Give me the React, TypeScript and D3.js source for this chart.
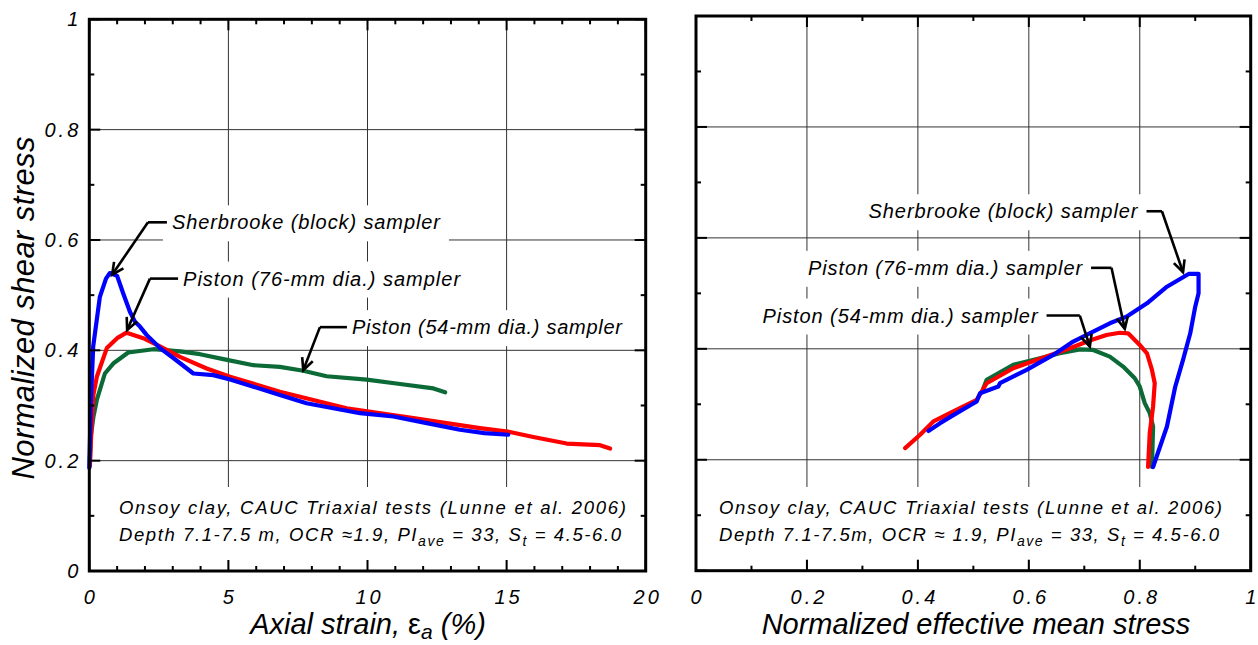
import React from "react";
import * as d3 from "d3";

const W = 1258;
const H = 645;
const FONT = "'Liberation Sans', Arial, Helvetica, sans-serif";

// Stress–strain curves: [axial strain (%), normalized shear stress]
const blockStrainCurve: [number, number][] = [
  [0.0, 0.187], [0.03, 0.25], [0.06, 0.31], [0.14, 0.407], [0.38, 0.497], [0.6, 0.53],
  [0.74, 0.54], [1.0, 0.535], [1.22, 0.503], [1.46, 0.47], [1.64, 0.452], [1.82, 0.443],
  [2.06, 0.428], [2.54, 0.404], [3.02, 0.386], [3.74, 0.358], [4.46, 0.355], [5.06, 0.347],
  [5.9, 0.334], [6.85, 0.319], [7.81, 0.304], [8.77, 0.295], [9.73, 0.286], [10.93, 0.28],
  [12.13, 0.268], [13.32, 0.256], [14.2, 0.25], [15.06, 0.247],
];
const piston76StrainCurve: [number, number][] = [
  [0.02, 0.19], [0.08, 0.26], [0.15, 0.32], [0.27, 0.352], [0.63, 0.404], [1.0, 0.422],
  [1.34, 0.432], [1.94, 0.422], [2.54, 0.407], [3.26, 0.388], [4.22, 0.367], [5.06, 0.352],
  [6.85, 0.325], [9.25, 0.295], [11.65, 0.277], [14.04, 0.259], [15.12, 0.252], [15.96, 0.243],
  [17.16, 0.231], [18.36, 0.228], [18.72, 0.222],
];
const piston54StrainCurve: [number, number][] = [
  [0.02, 0.2], [0.05, 0.243], [0.15, 0.28], [0.27, 0.31], [0.56, 0.358], [0.86, 0.376],
  [1.4, 0.396], [2.3, 0.402], [3.26, 0.398], [3.98, 0.393], [4.82, 0.384], [5.9, 0.373],
  [6.85, 0.37], [7.69, 0.363], [8.53, 0.353], [9.97, 0.347], [11.17, 0.339], [12.37, 0.331],
  [12.79, 0.324],
];

// Effective stress paths: [normalized effective mean stress, normalized shear stress]
const blockStressPath: [number, number][] = [
  [0.824, 0.187], [0.849, 0.26], [0.864, 0.332], [0.878, 0.38], [0.891, 0.428], [0.9, 0.476],
  [0.906, 0.5], [0.906, 0.535], [0.888, 0.535], [0.849, 0.512], [0.813, 0.482], [0.776, 0.458],
  [0.746, 0.446], [0.716, 0.431], [0.68, 0.413], [0.644, 0.389], [0.596, 0.362], [0.548, 0.338],
  [0.545, 0.332], [0.512, 0.32], [0.506, 0.305], [0.47, 0.284], [0.44, 0.266], [0.419, 0.252],
];
const piston76StressPath: [number, number][] = [
  [0.815, 0.187], [0.818, 0.248], [0.824, 0.296], [0.827, 0.338], [0.822, 0.362], [0.813, 0.392],
  [0.8, 0.407], [0.779, 0.428], [0.764, 0.429], [0.74, 0.425], [0.71, 0.415], [0.674, 0.401],
  [0.632, 0.386], [0.572, 0.365], [0.524, 0.338], [0.506, 0.308], [0.464, 0.287], [0.428, 0.269],
  [0.404, 0.245], [0.377, 0.221],
];
const piston54StressPath: [number, number][] = [
  [0.822, 0.187], [0.824, 0.26], [0.818, 0.284], [0.809, 0.302], [0.8, 0.332], [0.791, 0.347],
  [0.77, 0.368], [0.746, 0.386], [0.716, 0.398], [0.692, 0.399], [0.656, 0.392], [0.62, 0.383],
  [0.572, 0.371], [0.524, 0.344], [0.518, 0.329],
];

const strainTickLabels = ["0", "5", "10", "15", "20"];
const meanStressTickLabels = ["0", "0.2", "0.4", "0.6", "0.8", "1"];
const shearTickLabels = ["0", "0.2", "0.4", "0.6", "0.8", "1"];
const samplerNames = [
  "Sherbrooke (block) sampler",
  "Piston (76-mm dia.) sampler",
  "Piston (54-mm dia.) sampler",
];
const seriesColors = ["#0000ff", "#ff0000", "#0b6a36"];

type Pt = [number, number];
type Note = {
  label: string;
  tx: number; // text anchor (data units)
  ty: number;
  width: number; // rendered text length in px
  elbow: number; // x of the leader's bend (data units)
  tip: Pt; // arrow tip (data units)
};
type Box = { left: number; right: number; top: number; bottom: number };

const leftNotes: Note[] = [
  { label: samplerNames[0], tx: 2.97, ty: 0.632, width: 268, elbow: 2.11, tip: [0.82, 0.537] },
  { label: samplerNames[1], tx: 3.37, ty: 0.53, width: 277, elbow: 2.18, tip: [1.36, 0.437] },
  { label: samplerNames[2], tx: 9.44, ty: 0.442, width: 270, elbow: 8.29, tip: [7.69, 0.364] },
];
const rightNotes: Note[] = [
  { label: samplerNames[0], tx: 0.311, ty: 0.648, width: 269, elbow: 0.84, tip: [0.878, 0.538] },
  { label: samplerNames[1], tx: 0.202, ty: 0.546, width: 274, elbow: 0.749, tip: [0.773, 0.436] },
  { label: samplerNames[2], tx: 0.12, ty: 0.46, width: 275, elbow: 0.692, tip: [0.71, 0.404] },
];

function Arrow({ from, to }: { from: Pt; to: Pt }) {
  const ang = Math.atan2(to[1] - from[1], to[0] - from[0]);
  const len = 13;
  const spread = 0.45;
  const a1: Pt = [to[0] - len * Math.cos(ang - spread), to[1] - len * Math.sin(ang - spread)];
  const a2: Pt = [to[0] - len * Math.cos(ang + spread), to[1] - len * Math.sin(ang + spread)];
  return (
    <polyline
      points={`${a1[0]},${a1[1]} ${to[0]},${to[1]} ${a2[0]},${a2[1]}`}
      fill="none"
      stroke="#000"
      strokeWidth={2.6}
      strokeLinejoin="miter"
    />
  );
}

function NoteLine2({ x, y, width, compact }: { x: number; y: number; width: number; compact: boolean }) {
  const sub = 14;
  return (
    <text
      x={x}
      y={y}
      fontSize={18.5}
      fontStyle="italic"
      fontFamily={FONT}
      fill="#000"
      textLength={width}
      lengthAdjust="spacing"
    >
      {compact ? "Depth 7.1-7.5m, OCR \u2248 1.9, PI" : "Depth 7.1-7.5 m, OCR \u22481.9, PI"}
      <tspan fontSize={sub} dy={5}>ave</tspan>
      <tspan dy={-5}>{" = 33, S"}</tspan>
      <tspan fontSize={sub} dy={5}>t</tspan>
      <tspan dy={-5}>{" = 4.5-6.0"}</tspan>
    </text>
  );
}

function Panel({
  box,
  xDomain,
  xMajorCount,
  xMinorCount,
  xLabels,
  yLabels,
  curves,
  notes,
  side,
  noteX,
  noteWidth,
  note2Width,
  compactNote,
}: {
  box: Box;
  xDomain: [number, number];
  xMajorCount: number;
  xMinorCount: number;
  xLabels: string[];
  yLabels: string[] | null;
  curves: Pt[][];
  notes: Note[];
  side: "left" | "right";
  noteX: number;
  noteWidth: number;
  note2Width: number;
  compactNote: boolean;
}) {
  const x = d3.scaleLinear().domain(xDomain).range([box.left, box.right]);
  const y = d3.scaleLinear().domain([0, 1]).range([box.bottom, box.top]);
  const line = d3
    .line<Pt>()
    .x((d) => x(d[0]))
    .y((d) => y(d[1]));

  const xMajor = x.ticks(xMajorCount);
  const xMinor = x.ticks(xMinorCount);
  const yMajor = y.ticks(5);
  const yMinor = y.ticks(10);
  const majorLen = 11;
  const minorLen = 5;

  const padX = 9;
  const textBoxes = notes.map((n) => ({
    x: x(n.tx) - padX,
    y: y(n.ty) - 17,
    w: n.width + 2 * padX,
    h: 36,
  }));

  return (
    <g>
      {/* grid */}
      {xMajor
        .filter((v) => v > xDomain[0] && v < xDomain[1])
        .map((v) => (
          <line key={"gx" + v} x1={x(v)} x2={x(v)} y1={box.top} y2={box.bottom} stroke="#333" strokeWidth={1} />
        ))}
      {yMajor
        .filter((v) => v > 0 && v < 1)
        .map((v) => (
          <line key={"gy" + v} x1={box.left} x2={box.right} y1={y(v)} y2={y(v)} stroke="#333" strokeWidth={1} />
        ))}

      {/* label backgrounds */}
      {textBoxes.map((b, i) => (
        <rect key={"tb" + i} x={b.x} y={b.y} width={b.w} height={b.h} fill="#fff" />
      ))}
      <rect x={noteX - 9} y={487} width={noteWidth + 18} height={73} fill="#fff" />

      {/* curves: 54 mm, 76 mm, then block on top */}
      {[2, 1, 0].map((i) => (
        <path
          key={"c" + i}
          d={line(curves[i]) || ""}
          fill="none"
          stroke={seriesColors[i]}
          strokeWidth={4.2}
          strokeLinejoin="round"
          strokeLinecap="round"
        />
      ))}

      {/* annotations */}
      {notes.map((n, i) => {
        const ty = y(n.ty);
        const ex = x(n.elbow);
        const tip: Pt = [x(n.tip[0]), y(n.tip[1])];
        const tx0 = x(n.tx);
        const hx = side === "left" ? tx0 - 5 : tx0 + n.width + 9;
        return (
          <g key={"n" + i}>
            <line x1={ex} x2={hx} y1={ty} y2={ty} stroke="#000" strokeWidth={2.6} />
            <line x1={ex} y1={ty} x2={tip[0]} y2={tip[1]} stroke="#000" strokeWidth={2.6} />
            <Arrow from={[ex, ty]} to={tip} />
            <text
              x={tx0}
              y={ty + 7}
              fontSize={20}
              fontStyle="italic"
              fontFamily={FONT}
              textLength={n.width}
              lengthAdjust="spacing"
              fill="#000"
            >
              {n.label}
            </text>
          </g>
        );
      })}

      {/* test notes */}
      <text
        x={noteX}
        y={514}
        fontSize={18.5}
        fontStyle="italic"
        fontFamily={FONT}
        textLength={noteWidth}
        lengthAdjust="spacing"
        fill="#000"
      >
        Onsoy clay, CAUC Triaxial tests (Lunne et al. 2006)
      </text>
      <NoteLine2 x={noteX} y={541} width={note2Width} compact={compactNote} />

      {/* ticks on all four sides */}
      {xMinor.map((v) => (
        <g key={"tx" + v}>
          <line x1={x(v)} x2={x(v)} y1={box.bottom} y2={box.bottom - (xMajor.includes(v) ? majorLen : minorLen)} stroke="#000" strokeWidth={2} />
          <line x1={x(v)} x2={x(v)} y1={box.top} y2={box.top + (xMajor.includes(v) ? majorLen : minorLen)} stroke="#000" strokeWidth={2} />
        </g>
      ))}
      {yMinor.map((v) => (
        <g key={"ty" + v}>
          <line y1={y(v)} y2={y(v)} x1={box.left} x2={box.left + (yMajor.includes(v) ? majorLen : minorLen)} stroke="#000" strokeWidth={2} />
          <line y1={y(v)} y2={y(v)} x1={box.right} x2={box.right - (yMajor.includes(v) ? majorLen : minorLen)} stroke="#000" strokeWidth={2} />
        </g>
      ))}

      {/* frame */}
      <rect
        x={box.left}
        y={box.top}
        width={box.right - box.left}
        height={box.bottom - box.top}
        fill="none"
        stroke="#000"
        strokeWidth={3}
      />

      {/* tick labels */}
      {xMajor.map((v, i) => (
        <text
          key={"xl" + v}
          x={x(v) + (xLabels[i].length > 1 ? 2 : 0)}
          y={box.bottom + 33}
          textAnchor="middle"
          fontSize={20}
          fontStyle="italic"
          fontFamily={FONT}
          letterSpacing={xLabels[i].length > 1 ? 3 : 0}
          fill="#000"
        >
          {xLabels[i]}
        </text>
      ))}
      {yLabels &&
        yMajor.map((v, i) => (
          <text
            key={"yl" + v}
            x={box.left - 8}
            y={y(v) + 7}
            textAnchor="end"
            fontSize={20}
            fontStyle="italic"
            fontFamily={FONT}
            letterSpacing={3}
            fill="#000"
          >
            {yLabels[i]}
          </text>
        ))}
    </g>
  );
}

export default function App() {
  const leftBox: Box = { left: 89.3, right: 645.7, top: 19.3, bottom: 571 };
  const rightBox: Box = { left: 696, right: 1250.7, top: 16, bottom: 570.7 };
  return (
    <svg
      width={W}
      height={H}
      viewBox={`0 0 ${W} ${H}`}
      style={{ position: "absolute", left: 0, top: 0, background: "#fff" }}
    >
      <rect x={0} y={0} width={W} height={H} fill="#fff" />
      <Panel
        box={leftBox}
        xDomain={[0, 20]}
        xMajorCount={4}
        xMinorCount={20}
        xLabels={strainTickLabels}
        yLabels={shearTickLabels}
        curves={[blockStrainCurve, piston76StrainCurve, piston54StrainCurve]}
        notes={leftNotes}
        side="left"
        noteX={119}
        noteWidth={507}
        note2Width={502}
        compactNote={false}
      />
      <Panel
        box={rightBox}
        xDomain={[0, 1]}
        xMajorCount={5}
        xMinorCount={10}
        xLabels={meanStressTickLabels}
        yLabels={null}
        curves={[blockStressPath, piston76StressPath, piston54StressPath]}
        notes={rightNotes}
        side="right"
        noteX={719}
        noteWidth={503}
        note2Width={500}
        compactNote={true}
      />

      {/* axis titles */}
      <text
        transform="translate(34,308) rotate(-90)"
        textAnchor="middle"
        fontSize={31}
        fontStyle="italic"
        fontFamily={FONT}
        textLength={343}
        lengthAdjust="spacing"
        fill="#000"
      >
        Normalized shear stress
      </text>
      <text x={368} y={634} textAnchor="middle" fontSize={29} fontStyle="italic" fontFamily={FONT} fill="#000">
        {"Axial strain, "}
        <tspan fontStyle="normal">{"\u03b5"}</tspan>
        <tspan fontSize={21} dy={5}>a</tspan>
        <tspan dy={-5}>{" (%)"}</tspan>
      </text>
      <text x={976} y={634} textAnchor="middle" fontSize={29} fontStyle="italic" fontFamily={FONT} fill="#000">
        Normalized effective mean stress
      </text>
    </svg>
  );
}
